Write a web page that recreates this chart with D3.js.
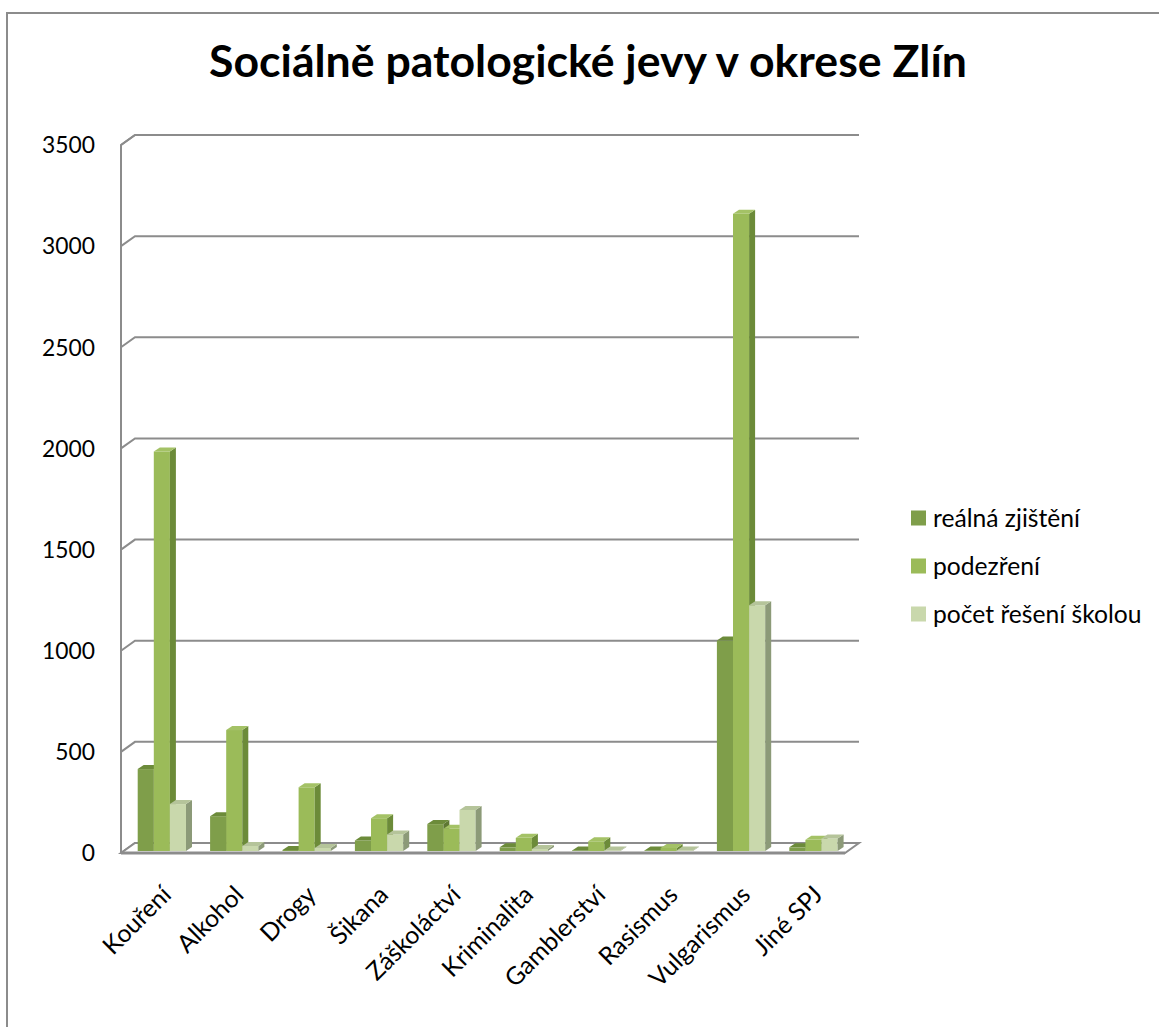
<!DOCTYPE html>
<html><head><meta charset="utf-8">
<script src="https://cdn.jsdelivr.net/npm/d3@7"></script>
<style>html,body{margin:0;padding:0;background:#fff;}svg{display:block;}</style>
</head><body>
<script>
const categories = ["Kouření","Alkohol","Drogy","Šikana","Záškoláctví","Kriminalita","Gamblerství","Rasismus","Vulgarismus","Jiné SPJ"];
const seriesNames = ["reálná zjištění","podezření","počet řešení školou"];
const realna = [405, 172, 5, 52, 133, 18, 3, 3, 1040, 18];
const podezreni = [1975, 598, 315, 162, 110, 65, 48, 15, 3150, 55];
const pocet = [232, 25, 15, 82, 203, 10, 3, 3, 1215, 62];
const yTicks = [0,500,1000,1500,2000,2500,3000,3500];
const title = "Sociálně patologické jevy v okrese Zlín";

const W=1159,H=1027;
const FONT = "Lato, 'Open Sans', sans-serif";
const colors = [
  {front:"#7F9E4A", side:"#5E7833", top:"#6C8B3A"},
  {front:"#9BBB59", side:"#6C8B39", top:"#A4C266"},
  {front:"#C9D8AC", side:"#8C9A78", top:"#B5C49A"}
];
const grid = "#8C8C8C";

const svg = d3.select("body").append("svg").attr("width",W).attr("height",H);

function fit(sel, target){
  const n = sel.node(); const w = n.getComputedTextLength();
  const fs = parseFloat(sel.attr("font-size"));
  sel.attr("font-size", (fs*target/w).toFixed(2));
}

// outer border
svg.append("rect").attr("x",7).attr("y",13).attr("width",1170).attr("height",1040)
  .attr("fill","none").attr("stroke",grid).attr("stroke-width",2);

// title
const t = svg.append("text").attr("x",588).attr("y",77).attr("text-anchor","middle")
  .attr("font-family",FONT).attr("font-weight","bold").attr("font-size",38).attr("fill","#000").text(title);
fit(t, 758);

// scales
const depth = {dx:14, dy:-10};
const y = d3.scaleLinear().domain([0,3500]).range([853,145]);
const x = d3.scaleBand().domain(categories).range([121,845]);
const xs = d3.scaleBand().domain(seriesNames).range([16.7, 65]);
const barShift = {dx:0, dy:-2};
const bd = {dx:6, dy:-4};

const x0 = x.range()[0], x1 = x.range()[1];

// side wall outline + back wall top
const g = svg.append("g");
g.append("path").attr("fill","none").attr("stroke",grid).attr("stroke-width",2)
  .attr("d", `M${x0},${y(0)} L${x0},${y(3500)} L${x0+depth.dx},${y(3500)+depth.dy}`);
// gridlines (back wall + side wall segments)
yTicks.forEach(v=>{
  g.append("path").attr("fill","none").attr("stroke",grid).attr("stroke-width",2)
   .attr("d", `M${x0},${y(v)} L${x0+depth.dx},${y(v)+depth.dy} L${x1+depth.dx},${y(v)+depth.dy}`);
});
// floor
g.append("path").attr("fill","#fff").attr("stroke",grid).attr("stroke-width",2)
  .attr("d", `M${x0},${y(0)} L${x1},${y(0)} L${x1+depth.dx},${y(0)+depth.dy} L${x0+depth.dx},${y(0)+depth.dy} Z`);
g.append("line").attr("x1",x0).attr("x2",x1).attr("y1",y(0)).attr("y2",y(0))
  .attr("stroke",grid).attr("stroke-width",3);

// y tick labels
const yl = svg.append("g").selectAll("text").data(yTicks).join("text")
  .attr("x",95).attr("y",d=>y(d)).attr("dy","0.36em").attr("text-anchor","end")
  .attr("font-family",FONT).attr("font-size",22).attr("fill","#000").text(d=>d);
fit(d3.select(yl.nodes()[7]), 53);
const tickFs = d3.select(yl.nodes()[7]).attr("font-size");
yl.attr("font-size", tickFs);

// bars
const data = [realna, podezreni, pocet];
const bars = svg.append("g");
categories.forEach((c,i)=>{
  data.forEach((arr,s)=>{
    const v = arr[i];
    const L = x(c)+xs(seriesNames[s])+barShift.dx;
    const R = L + xs.bandwidth();
    const B = y(0)+barShift.dy;
    const T = B - (y(0)-y(v));
    const col = colors[s];
    bars.append("rect").attr("x",L).attr("y",T).attr("width",R-L).attr("height",B-T).attr("fill",col.front);
    bars.append("path").attr("fill",col.side)
      .attr("d",`M${R},${T} L${R+bd.dx},${T+bd.dy} L${R+bd.dx},${B+bd.dy} L${R},${B} Z`);
    bars.append("path").attr("fill",col.top)
      .attr("d",`M${L},${T} L${L+bd.dx},${T+bd.dy} L${R+bd.dx},${T+bd.dy} L${R},${T} Z`);
  });
});

// x labels
svg.append("g").selectAll("text").data(categories).join("text")
  .attr("transform",d=>`translate(${x(d)+x.bandwidth()/2+3},${y(0)+31}) rotate(-45)`)
  .attr("text-anchor","end").attr("dy","0.71em")
  .attr("font-family",FONT).attr("font-size",(parseFloat(tickFs)*1.08).toFixed(2)).attr("fill","#000").text(d=>d);

// legend
const lg = svg.append("g");
const legY = d3.scaleBand().domain(seriesNames).range([494,638]);
seriesNames.forEach((n,s)=>{
  const yy = legY(n)+legY.bandwidth()/2;
  lg.append("rect").attr("x",911).attr("y",yy-7.5).attr("width",15).attr("height",15).attr("fill",colors[s].front);
  const tt = lg.append("text").attr("x",933).attr("y",yy).attr("dy","0.36em")
    .attr("font-family",FONT).attr("font-size",21).attr("fill","#000").text(n);
  if(s===0) fit(tt,147);
});
const lfs = d3.select(lg.selectAll("text").nodes()[0]).attr("font-size");
lg.selectAll("text").attr("font-size",lfs);
</script>
</body></html>
